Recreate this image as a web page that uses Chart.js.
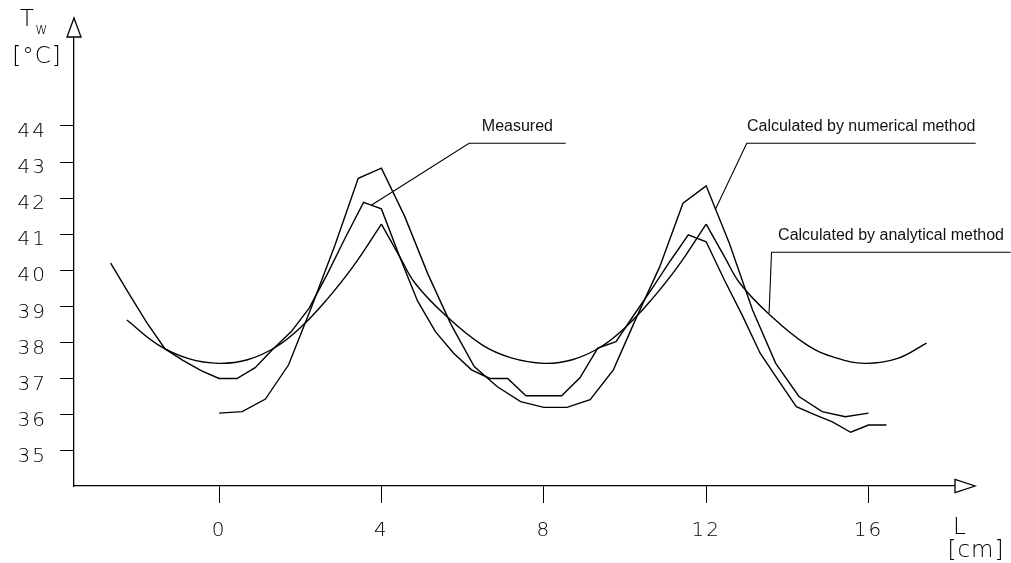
<!DOCTYPE html>
<html>
<head>
<meta charset="utf-8">
<script src="https://cdn.jsdelivr.net/npm/chart.js@4.4.0/dist/chart.umd.min.js"></script>
<style>
  html, body { margin: 0; padding: 0; background: #fff; }
</style>
</head>
<body>
<canvas id="myChart" width="1011" height="563"></canvas>
<script>
// values: L in cm, Tw in degC
const measuredL = [-2.67, -2.22, -1.78, -1.33, -0.89, -0.44, 0, 0.44, 0.89, 1.33, 1.78, 2.22, 2.67, 3.11, 3.56, 4,
    4.44, 4.89, 5.33, 5.78, 6.22, 6.67, 7.11, 7.56, 8, 8.44, 8.89, 9.33, 9.78, 10.22, 10.67, 11.11, 11.56, 12,
    12.44, 12.89, 13.33, 13.78, 14.22, 14.67, 15.11, 15.56, 16, 16.44];
const measuredT = [40.2, 39.35, 38.55, 37.82, 37.5, 37.22, 37.0, 37.0, 37.3, 37.82, 38.3, 38.95, 39.9, 40.9, 41.88, 41.7,
    40.4, 39.15, 38.3, 37.7, 37.24, 37.0, 37.0, 36.52, 36.52, 36.52, 37.02, 37.84, 38.02, 38.76, 39.5, 40.25, 40.98, 40.79,
    39.75, 38.75, 37.7, 36.95, 36.22, 36.0, 35.8, 35.51, 35.71, 35.71];

const numericalL = [0, 0.571, 1.143, 1.714, 2.286, 2.857, 3.429, 4, 4.571, 5.143, 5.714, 6.286, 6.857, 7.429, 8,
    8.571, 9.143, 9.714, 10.286, 10.857, 11.429, 12, 12.571, 13.143, 13.714, 14.286, 14.857, 15.429, 16];
const numericalT = [36.04, 36.08, 36.43, 37.38, 39.0, 40.7, 42.55, 42.83, 41.5, 39.9, 38.5, 37.33, 36.77, 36.36, 36.2,
    36.2, 36.41, 37.24, 38.7, 40.1, 41.86, 42.34, 40.75, 38.9, 37.42, 36.5, 36.08, 35.94, 36.04];

const analyticalL = [-2.27, -1.5, -0.75, 0, 0.7, 1.41, 2.07, 2.65, 3.3, 4,
    4.45, 4.83, 5.57, 6.48, 7.2, 8, 8.7, 9.41, 10.07, 10.65, 11.3, 12,
    12.45, 12.83, 13.57, 14.48, 15.2, 15.91, 16.7, 17.43];
const analyticalT = [38.62, 37.93, 37.55, 37.42, 37.52, 37.88, 38.48, 39.18, 40.1, 41.28,
    40.38, 39.64, 38.76, 37.93, 37.57, 37.42, 37.52, 37.88, 38.48, 39.18, 40.1, 41.28,
    40.38, 39.64, 38.76, 37.93, 37.57, 37.42, 37.55, 37.98];
const analyticalCusps = [4, 12];

const xTicks = [0, 4, 8, 12, 16];
const yTicks = [35, 36, 37, 38, 39, 40, 41, 42, 43, 44];

// leader lines [L, T]; the text sits over the last segment
const leaders = [
    {text: 'Measured', pts: [[3.76, 41.81], [6.16, 43.52], [8.54, 43.52]]},
    {text: 'Calculated by numerical method', pts: [[12.22, 41.67], [13.0, 43.52], [18.64, 43.52]]},
    {text: 'Calculated by analytical method', pts: [[13.55, 38.81], [13.61, 40.5], [19.5, 40.5]]}
];

const plotFont = "'DejaVu Sans', sans-serif";

function toPoints(xs, ys) {
    return xs.map((x, i) => ({x: x, y: ys[i]}));
}

// the analytical curve has sharp tips, so smooth each piece between them on its own
function splitAt(xs, ys, cuts) {
    let parts = [];
    let cur = [];
    xs.forEach((x, i) => {
        cur.push({x: x, y: ys[i]});
        if (cuts.includes(x) && cur.length > 1) {
            parts.push(cur);
            cur = [{x: x, y: ys[i]}];
        }
    });
    if (cur.length > 1) parts.push(cur);
    return parts;
}

function lineSet(data, tension) {
    return {
        data: data,
        borderColor: '#000',
        borderWidth: 1.4,
        pointRadius: 0,
        fill: false,
        tension: tension
    };
}

let datasets = [
    lineSet(toPoints(measuredL, measuredT), 0),
    lineSet(toPoints(numericalL, numericalT), 0)
];
splitAt(analyticalL, analyticalT, analyticalCusps).forEach(p => datasets.push(lineSet(p, 0.4)));

const extras = {
    id: 'extras',
    beforeDraw(chart) {
        // plotter-like wide digits on the axes
        chart.ctx.letterSpacing = '2px';
    },
    afterDraw(chart) {
        const ctx = chart.ctx;
        const a = chart.chartArea;
        const x = chart.scales.x;
        const y = chart.scales.y;
        ctx.letterSpacing = '0px';
        ctx.save();
        ctx.strokeStyle = '#000';
        ctx.fillStyle = '#fff';
        ctx.lineWidth = 1.3;

        // arrow heads
        ctx.beginPath();
        ctx.moveTo(a.left - 7, a.top);
        ctx.lineTo(a.left + 7, a.top);
        ctx.lineTo(a.left, a.top - 19);
        ctx.closePath();
        ctx.fill();
        ctx.stroke();

        ctx.beginPath();
        ctx.moveTo(a.right, a.bottom - 6.5);
        ctx.lineTo(a.right, a.bottom + 6.5);
        ctx.lineTo(a.right + 20, a.bottom);
        ctx.closePath();
        ctx.fill();
        ctx.stroke();

        // leaders and their labels
        ctx.lineWidth = 1.1;
        ctx.fillStyle = '#111';
        ctx.font = "16px 'Liberation Sans', Arial, sans-serif";
        ctx.textAlign = 'center';
        ctx.textBaseline = 'middle';
        leaders.forEach(l => {
            const px = l.pts.map(p => [x.getPixelForValue(p[0]), y.getPixelForValue(p[1])]);
            ctx.beginPath();
            px.forEach((p, i) => i ? ctx.lineTo(p[0], p[1]) : ctx.moveTo(p[0], p[1]));
            ctx.stroke();
            const n = px.length;
            ctx.fillText(l.text, (px[n - 2][0] + px[n - 1][0]) / 2, px[n - 1][1] - 17);
        });

        // axis names
        ctx.fillStyle = '#000';
        ctx.font = '200 23px ' + plotFont;
        ctx.fillText('T', a.left - 47, a.top - 17);
        ctx.font = '200 15px ' + plotFont;
        ctx.fillText('w', a.left - 32.5, a.top - 7);
        ctx.font = '200 23px ' + plotFont;
        ctx.letterSpacing = '1px';
        ctx.fillText('[\u00B0C]', a.left - 37, a.top + 20);
        ctx.fillText('L', a.right + 5, a.bottom + 42);
        ctx.fillText('[cm]', a.right + 21, a.bottom + 65);
        ctx.letterSpacing = '0px';
        ctx.restore();
    }
};

const tickFont = {family: plotFont, size: 20, weight: 200};

new Chart(document.getElementById('myChart'), {
    type: 'line',
    data: {datasets: datasets},
    options: {
        responsive: false,
        animation: false,
        events: [],
        layout: {padding: {top: 37, right: 56, left: 0, bottom: 0}},
        plugins: {legend: {display: false}, tooltip: {enabled: false}},
        scales: {
            x: {
                type: 'linear',
                min: -3.573,
                max: 18.13,
                afterBuildTicks: s => { s.ticks = xTicks.map(v => ({value: v})); },
                afterFit: s => { s.height = 77; },
                grid: {drawOnChartArea: false, drawTicks: true, tickLength: 17, color: '#000', lineWidth: 1},
                border: {display: true, color: '#000', width: 1.3},
                ticks: {padding: 16, font: tickFont, color: '#000', maxRotation: 0}
            },
            y: {
                type: 'linear',
                min: 34.02,
                max: 46.465,
                afterBuildTicks: s => { s.ticks = yTicks.map(v => ({value: v})); },
                afterFit: s => { s.width = 74; },
                grid: {drawOnChartArea: false, drawTicks: true, tickLength: 14, color: '#000', lineWidth: 1},
                border: {display: true, color: '#000', width: 1.3},
                ticks: {padding: 13, labelOffset: 6, font: tickFont, color: '#000'}
            }
        }
    },
    plugins: [extras]
});
</script>
</body>
</html>
